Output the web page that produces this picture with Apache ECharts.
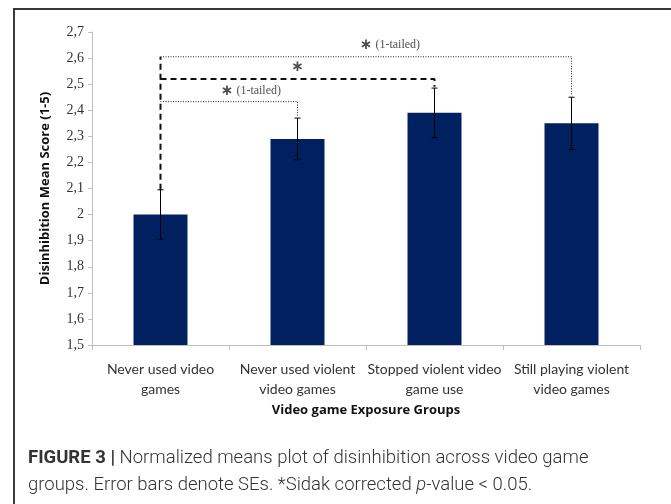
<!DOCTYPE html>
<html>
<head>
<meta charset="utf-8">
<script src="https://cdn.jsdelivr.net/npm/echarts@6/dist/echarts.min.js"></script>
<style>
  html, body { margin: 0; padding: 0; background: #fff; }
  #chart { width: 671px; height: 504px; }
</style>
</head>
<body>
<div id="chart"></div>
<script>
var groups = ['Never used video\ngames', 'Never used violent\nvideo games', 'Stopped violent video\ngame use', 'Still playing violent\nvideo games'];
var means = [2.0, 2.29, 2.39, 2.35];
var errors = [0.095, 0.08, 0.095, 0.1];
var yTicks = { min: 1.5, max: 2.7, step: 0.1 };

// significance brackets, x = group index, y = score
var dashedLines = [
  [[0, 2.095], [0, 2.605]],
  [[0, 2.52], [2, 2.52], [2, 2.49]]
];
var dottedLines = [
  [[0, 2.605], [3, 2.605], [3, 2.46]],
  [[0, 2.433], [1, 2.433], [1, 2.38]]
];
var sigLabels = [
  { x: 1.675, y: 2.65, star: '∗', text: ' (1-tailed)' },
  { x: 1.0, y: 2.567, star: '∗', text: '' },
  { x: 0.66, y: 2.474, star: '∗', text: ' (1-tailed)' }
];

var chartDom = document.getElementById('chart');
var myChart = echarts.init(chartDom, null, { renderer: 'canvas' });

function lineSeries(pts, type, width, color) {
  return {
    type: 'line',
    xAxisIndex: 1,
    data: pts,
    symbol: 'none',
    silent: true,
    z: 5,
    lineStyle: { type: type, width: width, color: color },
    animation: false
  };
}

var series = [
  {
    type: 'bar',
    data: means,
    barWidth: 54,
    itemStyle: { color: '#00205f' },
    animation: false
  },
  {
    type: 'custom',
    xAxisIndex: 1,
    data: means.map(function (m, i) { return [i, m - errors[i], m + errors[i]]; }),
    renderItem: function (params, api) {
      var lo = api.coord([api.value(0), api.value(1)]);
      var hi = api.coord([api.value(0), api.value(2)]);
      var c = 3;
      return {
        type: 'group',
        children: [
          { type: 'line', shape: { x1: lo[0], y1: lo[1], x2: hi[0], y2: hi[1] }, style: { stroke: '#000', lineWidth: 1 } },
          { type: 'line', shape: { x1: lo[0] - c, y1: lo[1], x2: lo[0] + c, y2: lo[1] }, style: { stroke: '#000', lineWidth: 1 } },
          { type: 'line', shape: { x1: hi[0] - c, y1: hi[1], x2: hi[0] + c, y2: hi[1] }, style: { stroke: '#000', lineWidth: 1 } }
        ]
      };
    },
    z: 4,
    animation: false
  }
];
dashedLines.forEach(function (l) { series.push(lineSeries(l, [6, 4], 2, '#111')); });
dottedLines.forEach(function (l) { series.push(lineSeries(l, [1, 1.5], 1, '#222')); });
series.push({
  type: 'scatter',
  xAxisIndex: 1,
  symbolSize: 0,
  data: sigLabels.map(function (s) { return { value: [s.x, s.y], star: s.star, txt: s.text }; }),
  label: {
    show: true,
    position: 'inside',
    formatter: function (p) { return '{s|' + p.data.star + '}' + (p.data.txt ? '{t|' + p.data.txt + '}' : ''); },
    rich: {
      s: { fontFamily: 'DejaVu Sans', fontWeight: 'bold', fontSize: 15, color: '#222' },
      t: { fontFamily: 'Liberation Serif', fontSize: 12, color: '#222' }
    }
  },
  silent: true,
  animation: false
});

var option = {
  backgroundColor: '#fff',
  textStyle: { fontFamily: 'Lato, sans-serif' },
  grid: { left: 92, right: 31, top: 32, bottom: 159 },
  xAxis: [
    {
      type: 'category',
      data: groups,
      axisLine: { lineStyle: { color: '#bfbfbf' } },
      axisTick: { show: true, length: 5, lineStyle: { color: '#bfbfbf' } },
      axisLabel: { interval: 0, color: '#333', fontSize: 14, lineHeight: 20, margin: 14, fontFamily: 'Lato' },
      name: 'Video game Exposure Groups',
      nameLocation: 'middle',
      nameGap: 53,
      nameTextStyle: { fontWeight: 'bold', fontSize: 13, color: '#111', fontFamily: 'Open Sans' }
    },
    {
      type: 'value',
      min: -0.5,
      max: 3.5,
      show: false
    }
  ],
  yAxis: {
    type: 'value',
    min: yTicks.min,
    max: yTicks.max,
    interval: yTicks.step,
    splitLine: { show: false },
    axisLine: { show: true, onZero: false, lineStyle: { color: '#bfbfbf' } },
    axisTick: { show: true, length: 4, lineStyle: { color: '#bfbfbf' } },
    axisLabel: {
      color: '#333',
      fontSize: 14,
      fontFamily: 'Liberation Serif',
      margin: 8,
      formatter: function (v) { return (Math.round(v * 10) / 10).toString().replace('.', ','); }
    },
    name: 'Disinhibition Mean Score (1-5)',
    nameLocation: 'middle',
    nameGap: 40,
    nameRotate: 90,
    nameTextStyle: { fontWeight: 'bold', fontSize: 13, color: '#111', fontFamily: 'Open Sans' }
  },
  graphic: [
    {
      type: 'rect',
      shape: { x: 14, y: 9, width: 700, height: 600 },
      style: { fill: 'none', stroke: '#3a3a3a', lineWidth: 2 },
      silent: true
    },
    {
      type: 'text',
      left: 28,
      top: 445,
      style: {
        text: '{b|FIGURE 3 |} Normalized means plot of disinhibition across video game\ngroups. Error bars denote SEs. *Sidak corrected {i|p}-value < 0.05.',
        font: '300 18.5px Roboto',
        fill: '#333',
        lineHeight: 27,
        rich: {
          b: { fontWeight: 'bold', fontSize: 18.5, fontFamily: 'Roboto', fill: '#333' },
          i: { fontStyle: 'italic', fontWeight: 300, fontSize: 18.5, fontFamily: 'Roboto', fill: '#333' }
        }
      }
    }
  ],
  series: series
};
myChart.setOption(option, true);
</script>
</body>
</html>
